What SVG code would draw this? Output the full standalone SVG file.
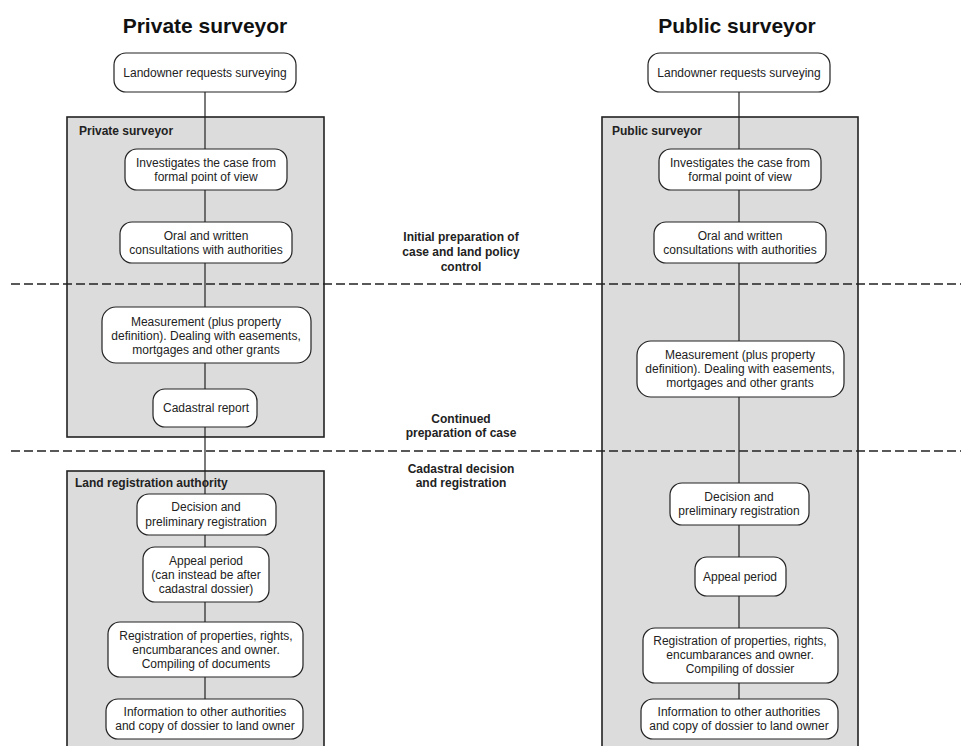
<svg xmlns="http://www.w3.org/2000/svg" width="961" height="746" viewBox="0 0 961 746">
  <style>
    .title { font-family: "Liberation Sans", Arial, sans-serif; font-size: 21px; font-weight: bold; fill: #111; text-anchor: middle; }
    .lane { fill: #dcdcdc; stroke: #222; stroke-width: 1.6; }
    .lane-label { font-family: "Liberation Sans", Arial, sans-serif; font-size: 12px; font-weight: bold; fill: #222; }
    .phase { font-family: "Liberation Sans", Arial, sans-serif; font-size: 12px; font-weight: bold; fill: #222; text-anchor: middle; }
    .divider { stroke: #222; stroke-width: 1.3; stroke-dasharray: 9 4; fill: none; }
    .link { stroke: #222; stroke-width: 1.2; fill: none; }
    .box { fill: #fff; stroke: #222; stroke-width: 1.2; }
    .lbl { font-family: "Liberation Sans", Arial, sans-serif; font-size: 12px; fill: #222; text-anchor: middle; }
  </style>

  <!-- column headings -->
  <text class="title" x="205" y="33">Private surveyor</text>
  <text class="title" x="737" y="33">Public surveyor</text>

  <!-- swimlane containers -->
  <g id="lane-private">
    <rect class="lane" x="67" y="117" width="257" height="320"/>
    <text class="lane-label" x="79" y="135">Private surveyor</text>
  </g>
  <g id="lane-land-registration">
    <rect class="lane" x="67" y="471" width="257" height="300"/>
    <text class="lane-label" x="75" y="487">Land registration authority</text>
  </g>
  <g id="lane-public">
    <rect class="lane" x="602" y="117" width="256" height="660"/>
    <text class="lane-label" x="612" y="135">Public surveyor</text>
  </g>

  <!-- phase dividers and phase labels -->
  <g id="phases">
    <line class="divider" x1="11" y1="284" x2="961" y2="284"/>
    <line class="divider" x1="11" y1="451" x2="961" y2="451"/>
    <text class="phase" x="461" y="241">Initial preparation of</text>
    <text class="phase" x="461" y="256">case and land policy</text>
    <text class="phase" x="461" y="271">control</text>
    <text class="phase" x="461" y="423">Continued</text>
    <text class="phase" x="461" y="437">preparation of case</text>
    <text class="phase" x="461" y="473">Cadastral decision</text>
    <text class="phase" x="461" y="487">and registration</text>
  </g>

  <!-- connectors -->
  <g id="connectors">
    <line class="link" x1="205" y1="92" x2="205" y2="149"/>
    <line class="link" x1="205" y1="190" x2="205" y2="222"/>
    <line class="link" x1="205" y1="263" x2="205" y2="307"/>
    <line class="link" x1="205" y1="363" x2="205" y2="389"/>
    <line class="link" x1="205" y1="427" x2="205" y2="494"/>
    <line class="link" x1="205" y1="535" x2="205" y2="547"/>
    <line class="link" x1="205" y1="602" x2="205" y2="622"/>
    <line class="link" x1="205" y1="677" x2="205" y2="699"/>

    <line class="link" x1="739" y1="92" x2="739" y2="149"/>
    <line class="link" x1="739" y1="190" x2="739" y2="222"/>
    <line class="link" x1="739" y1="263" x2="739" y2="341"/>
    <line class="link" x1="739" y1="397" x2="739" y2="483"/>
    <line class="link" x1="739" y1="525" x2="739" y2="557"/>
    <line class="link" x1="739" y1="596" x2="739" y2="628"/>
    <line class="link" x1="739" y1="683" x2="739" y2="699"/>
  </g>

  <!-- private surveyor process -->
  <g id="p-request">
    <rect class="box" x="114" y="53" width="182" height="39" rx="12"/>
    <text class="lbl" x="205" y="77">Landowner requests surveying</text>
  </g>
  <g id="p-investigate">
    <rect class="box" x="125" y="149" width="162" height="41" rx="12"/>
    <text class="lbl" x="206" y="167">Investigates the case from</text>
    <text class="lbl" x="206" y="181">formal point of view</text>
  </g>
  <g id="p-consult">
    <rect class="box" x="120" y="222" width="172" height="41" rx="12"/>
    <text class="lbl" x="206" y="240">Oral and written</text>
    <text class="lbl" x="206" y="254">consultations with authorities</text>
  </g>
  <g id="p-measure">
    <rect class="box" x="102" y="307" width="209" height="56" rx="14"/>
    <text class="lbl" x="206" y="326">Measurement (plus property</text>
    <text class="lbl" x="206" y="340">definition). Dealing with easements,</text>
    <text class="lbl" x="206" y="354">mortgages and other grants</text>
  </g>
  <g id="p-report">
    <rect class="box" x="153" y="389" width="104" height="38" rx="12"/>
    <text class="lbl" x="206" y="412">Cadastral report</text>
  </g>
  <g id="p-decision">
    <rect class="box" x="137" y="494" width="139" height="41" rx="12"/>
    <text class="lbl" x="206" y="511">Decision and</text>
    <text class="lbl" x="206" y="526">preliminary registration</text>
  </g>
  <g id="p-appeal">
    <rect class="box" x="143" y="547" width="126" height="55" rx="12"/>
    <text class="lbl" x="206" y="565">Appeal period</text>
    <text class="lbl" x="206" y="579">(can instead be after</text>
    <text class="lbl" x="206" y="593">cadastral dossier)</text>
  </g>
  <g id="p-register">
    <rect class="box" x="108" y="622" width="195" height="55" rx="12"/>
    <text class="lbl" x="206" y="640">Registration of properties, rights,</text>
    <text class="lbl" x="206" y="654">encumbarances and owner.</text>
    <text class="lbl" x="206" y="668">Compiling of documents</text>
  </g>
  <g id="p-inform">
    <rect class="box" x="106" y="699" width="197" height="40" rx="12"/>
    <text class="lbl" x="205" y="716">Information to other authorities</text>
    <text class="lbl" x="205" y="730">and copy of dossier to land owner</text>
  </g>

  <!-- public surveyor process -->
  <g id="q-request">
    <rect class="box" x="648" y="53" width="182" height="39" rx="12"/>
    <text class="lbl" x="739" y="77">Landowner requests surveying</text>
  </g>
  <g id="q-investigate">
    <rect class="box" x="659" y="149" width="162" height="41" rx="12"/>
    <text class="lbl" x="740" y="167">Investigates the case from</text>
    <text class="lbl" x="740" y="181">formal point of view</text>
  </g>
  <g id="q-consult">
    <rect class="box" x="654" y="222" width="172" height="41" rx="12"/>
    <text class="lbl" x="740" y="240">Oral and written</text>
    <text class="lbl" x="740" y="254">consultations with authorities</text>
  </g>
  <g id="q-measure">
    <rect class="box" x="637" y="341" width="207" height="56" rx="14"/>
    <text class="lbl" x="740" y="359">Measurement (plus property</text>
    <text class="lbl" x="740" y="373">definition). Dealing with easements,</text>
    <text class="lbl" x="740" y="387">mortgages and other grants</text>
  </g>
  <g id="q-decision">
    <rect class="box" x="670" y="483" width="139" height="42" rx="12"/>
    <text class="lbl" x="739" y="501">Decision and</text>
    <text class="lbl" x="739" y="515">preliminary registration</text>
  </g>
  <g id="q-appeal">
    <rect class="box" x="695" y="557" width="91" height="39" rx="12"/>
    <text class="lbl" x="740" y="581">Appeal period</text>
  </g>
  <g id="q-register">
    <rect class="box" x="643" y="628" width="195" height="55" rx="12"/>
    <text class="lbl" x="740" y="645">Registration of properties, rights,</text>
    <text class="lbl" x="740" y="659">encumbarances and owner.</text>
    <text class="lbl" x="740" y="673">Compiling of dossier</text>
  </g>
  <g id="q-inform">
    <rect class="box" x="641" y="699" width="197" height="40" rx="12"/>
    <text class="lbl" x="739" y="716">Information to other authorities</text>
    <text class="lbl" x="739" y="730">and copy of dossier to land owner</text>
  </g>
</svg>
